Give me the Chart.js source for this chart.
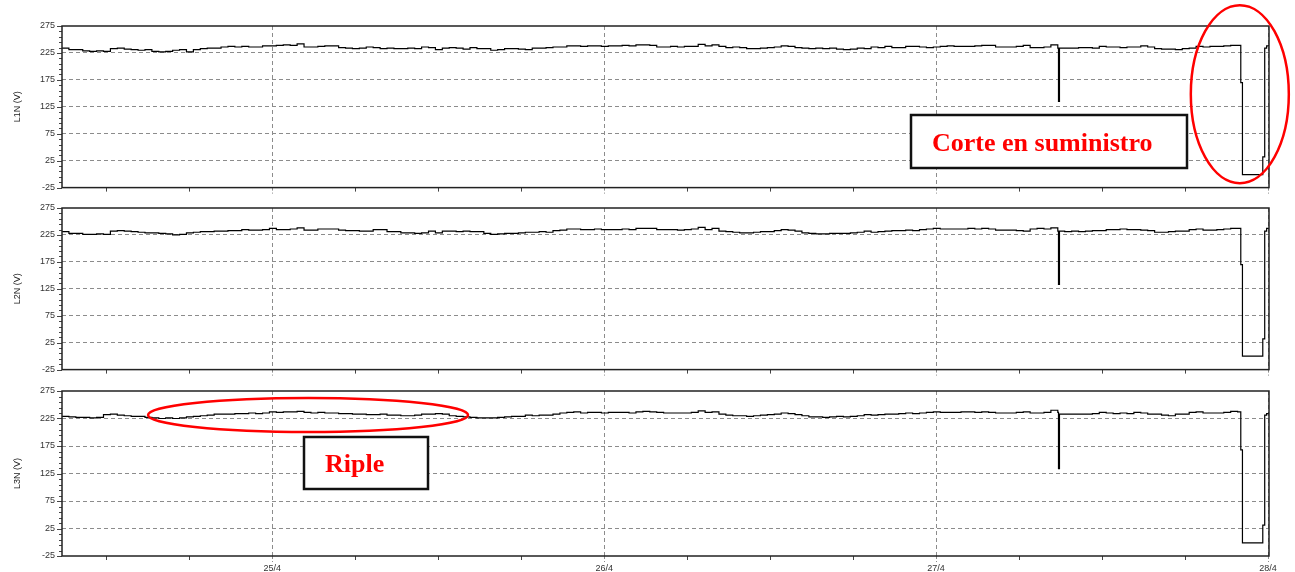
<!DOCTYPE html>
<html>
<head>
<meta charset="utf-8">
<script src="https://cdn.jsdelivr.net/npm/chart.js@4/dist/chart.umd.min.js"></script>
<style>
  html, body { margin: 0; padding: 0; background: #fff; width: 1295px; height: 572px; overflow: hidden; }
  canvas { position: absolute; left: 0; }
</style>
</head>
<body>
<canvas id="p1" width="1295" height="200" style="top:0"></canvas>
<canvas id="p2" width="1295" height="200" style="top:182px"></canvas>
<canvas id="p3" width="1295" height="207" style="top:365px"></canvas>
<script>
// Phase-to-neutral voltage log, one sample every half hour.
// Time axis is in hours counted from 24/4 00:00.
const startHour = 8.8;
const sampleStep = 0.5;
const endHour = 96.07;

const l1n = [
  234, 231, 231, 229, 228, 229, 228, 233, 234, 232,
  231, 230, 231, 228, 227, 228, 230, 231, 227, 231,
  233, 234, 234, 236, 237, 236, 237, 236, 236, 238,
  238, 239, 240, 239, 242, 236, 236, 237, 238, 238,
  235, 234, 233, 234, 236, 235, 233, 234, 233, 233,
  234, 233, 236, 235, 231, 234, 235, 234, 232, 235,
  233, 233, 230, 231, 233, 233, 232, 231, 234, 234,
  235, 236, 236, 238, 238, 237, 238, 238, 237, 238,
  238, 239, 238, 240, 240, 239, 236, 236, 237, 236,
  237, 237, 241, 238, 240, 237, 235, 236, 235, 233,
  233, 234, 235, 236, 238, 237, 235, 234, 233, 234,
  233, 234, 232, 231, 232, 234, 233, 236, 235, 237,
  235, 235, 237, 237, 236, 235, 236, 237, 238, 237,
  237, 237, 238, 239, 239, 236, 236, 236, 237, 239,
  235, 235, 236, 240, 234, 234, 234, 235, 235, 234,
  237, 236, 236, 235, 236, 236, 238, 236, 233, 232,
  232, 231, 233, 234, 237, 236, 237, 237, 238, 239,
  239
];

const l2n = [
  231, 228, 228, 226, 226, 227, 226, 232, 233, 232,
  231, 230, 229, 229, 228, 227, 225, 226, 229, 230,
  231, 231, 232, 232, 233, 233, 235, 234, 234, 235,
  237, 235, 235, 236, 238, 234, 234, 236, 236, 236,
  234, 233, 233, 232, 232, 235, 235, 231, 231, 229,
  229, 228, 229, 232, 229, 232, 232, 231, 232, 231,
  231, 228, 226, 227, 228, 228, 229, 230, 230, 231,
  230, 233, 234, 236, 236, 235, 235, 236, 235, 235,
  235, 236, 235, 237, 237, 237, 235, 235, 235, 234,
  235, 236, 239, 235, 237, 232, 231, 230, 229, 229,
  230, 231, 231, 233, 235, 234, 232, 229, 228, 227,
  227, 228, 228, 228, 229, 230, 232, 230, 231, 232,
  233, 233, 234, 233, 235, 236, 237, 236, 236, 236,
  236, 237, 236, 237, 236, 234, 234, 234, 233, 232,
  236, 237, 236, 238, 232, 231, 232, 231, 232, 233,
  233, 235, 235, 236, 235, 235, 234, 233, 230, 230,
  231, 232, 232, 235, 236, 234, 234, 235, 236, 237,
  237
];

const l3n = [
  229, 228, 227, 227, 226, 227, 232, 233, 231, 230,
  229, 229, 227, 226, 225, 226, 225, 226, 228, 229,
  230, 231, 233, 233, 233, 234, 234, 235, 234, 235,
  237, 236, 237, 237, 238, 236, 235, 236, 235, 235,
  234, 234, 233, 233, 232, 232, 233, 231, 231, 230,
  230, 231, 233, 233, 234, 233, 230, 229, 228, 227,
  226, 226, 226, 227, 228, 229, 229, 231, 230, 231,
  231, 233, 235, 236, 237, 235, 236, 236, 235, 236,
  236, 236, 235, 237, 238, 237, 236, 235, 235, 235,
  235, 236, 239, 236, 237, 233, 231, 230, 230, 229,
  230, 231, 232, 233, 235, 234, 232, 230, 228, 228,
  227, 228, 229, 228, 229, 230, 232, 231, 232, 233,
  233, 234, 235, 234, 235, 236, 237, 236, 236, 236,
  237, 237, 236, 237, 236, 235, 235, 235, 236, 237,
  235, 235, 236, 240, 236, 233, 233, 233, 233, 234,
  236, 235, 234, 235, 234, 236, 235, 233, 233, 231,
  230, 233, 233, 236, 237, 235, 235, 235, 236, 238,
  237
];

// Short events logged between regular samples: the sag on 27/4 and the supply cut before 28/4.
const eventHours = [80.85, 80.92, 94.03, 94.15, 95.62, 95.76, 95.9, 96.05];
const l1nEvents  = [135, 234, 170, -1, 32, 234, 238, 240];
const l2nEvents  = [133, 232, 170, 0, 32, 232, 237, 238];
const l3nEvents  = [134, 233, 168, -1, 31, 231, 234, 236];

const dayTicks  = [24, 48, 72, 96];
const dayLabels = ['25/4', '26/4', '27/4', '28/4'];
const voltTicks = [-25, 25, 75, 125, 175, 225, 275];

const labelFont = { family: '"Liberation Sans", Arial, sans-serif', size: 9 };
const gridGray = '#8c8c8c';

function buildSeries(values, events) {
  const pts = values.map((v, i) => ({ x: startHour + i * sampleStep, y: v }));
  eventHours.forEach((h, j) => pts.push({ x: h, y: events[j] }));
  pts.sort((a, b) => a.x - b.x);
  return pts;
}

// Plot frame plus the small minor tick marks (6 h on time, 10 V on voltage).
const frame = {
  id: 'frame',
  afterDraw(chart) {
    const { ctx, chartArea: a, scales: { x, y } } = chart;
    ctx.save();
    ctx.lineWidth = 1;
    for (let h = 12; h <= 96; h += 6) {
      const px = Math.round(x.getPixelForValue(h)) + 0.5;
      const major = h % 24 === 0;
      ctx.strokeStyle = major ? gridGray : '#444';
      ctx.setLineDash(major ? [3, 2] : []);
      ctx.beginPath();
      ctx.moveTo(px, a.bottom);
      ctx.lineTo(px, a.bottom + (major ? 6 : 4));
      ctx.stroke();
    }
    ctx.setLineDash([]);
    ctx.strokeStyle = '#444';
    ctx.beginPath();
    for (let v = -25; v <= 275; v += 10) {
      const py = Math.round(y.getPixelForValue(v)) + 0.5;
      const len = (v + 25) % 50 === 0 ? 5 : 3;
      ctx.moveTo(a.left - len, py);
      ctx.lineTo(a.left, py);
    }
    ctx.stroke();
    ctx.strokeStyle = '#222';
    ctx.lineWidth = 1.5;
    ctx.strokeRect(a.left, a.top, a.right - a.left, a.bottom - a.top);
    ctx.restore();
  }
};

// Red rings and boxed notes placed on the plot.
const callouts = {
  id: 'callouts',
  afterDraw(chart, args, opts) {
    const { ctx, scales: { x, y } } = chart;
    ctx.save();
    (opts.boxes || []).forEach(b => {
      const cx = x.getPixelForValue(b.x), cy = y.getPixelForValue(b.y);
      const l = Math.round(cx - b.w / 2), t = Math.round(cy - b.h / 2);
      ctx.fillStyle = '#fff';
      ctx.fillRect(l, t, b.w, b.h);
      ctx.strokeStyle = '#111';
      ctx.lineWidth = 2.5;
      ctx.strokeRect(l, t, b.w, b.h);
      ctx.fillStyle = '#ff0000';
      ctx.font = 'bold 26px "Liberation Serif", "Times New Roman", serif';
      ctx.textAlign = 'left';
      ctx.textBaseline = 'alphabetic';
      ctx.fillText(b.text, l + 21, cy + 9.5);
    });
    (opts.rings || []).forEach(r => {
      const cx = x.getPixelForValue(r.x), cy = y.getPixelForValue(r.y);
      ctx.strokeStyle = '#ff0000';
      ctx.lineWidth = 2.5;
      ctx.beginPath();
      ctx.ellipse(cx, cy, r.rx, r.ry, 0, 0, Math.PI * 2);
      ctx.stroke();
    });
    ctx.restore();
  }
};

function makePanel(id, title, values, events, axisHeight, showDays, notes) {
  return new Chart(document.getElementById(id), {
    type: 'line',
    data: {
      datasets: [{
        data: buildSeries(values, events),
        borderColor: '#000',
        borderWidth: 1.2,
        pointRadius: 0,
        stepped: true,
        fill: false
      }]
    },
    options: {
      responsive: false,
      animation: false,
      events: [],
      layout: { padding: { top: 26, right: 26, left: 0, bottom: 0 } },
      plugins: {
        legend: { display: false },
        tooltip: { enabled: false },
        callouts: notes
      },
      scales: {
        x: {
          type: 'linear',
          min: startHour,
          max: endHour,
          afterBuildTicks: s => { s.ticks = dayTicks.map(v => ({ value: v })); },
          afterFit: s => { s.height = axisHeight; },
          grid: { color: gridGray, lineWidth: 1, drawTicks: false },
          border: { display: false, dash: [4, 3] },
          ticks: {
            display: showDays,
            padding: 7,
            maxRotation: 0,
            autoSkip: false,
            color: '#333',
            font: labelFont,
            callback: (v, i) => dayLabels[i]
          }
        },
        y: {
          min: -25,
          max: 275,
          afterBuildTicks: s => { s.ticks = voltTicks.map(v => ({ value: v })); },
          afterFit: s => { s.width = 62; },
          grid: {
            color: c => (c.tick && (c.tick.value === -25 || c.tick.value === 275)) ? 'rgba(0,0,0,0)' : gridGray,
            lineWidth: 1,
            drawTicks: false
          },
          border: { display: false, dash: [4, 3] },
          ticks: { padding: 7, color: '#333', font: labelFont, callback: v => String(v) },
          title: { display: true, text: title, color: '#222', font: labelFont, padding: { top: 12, bottom: 0 } }
        }
      }
    },
    plugins: [frame, callouts]
  });
}

makePanel('p1', 'L1N (V)', l1n, l1nEvents, 8, false, {
  boxes: [{ x: 80.16, y: 60.8, w: 276, h: 53, text: 'Corte en suministro' }],
  rings: [{ x: 93.96, y: 148.5, rx: 49, ry: 89 }]
});
makePanel('p2', 'L2N (V)', l2n, l2nEvents, 8, false, { boxes: [], rings: [] });
makePanel('p3', 'L3N (V)', l3n, l3nEvents, 16, true, {
  boxes: [{ x: 30.78, y: 144.1, w: 124, h: 52, text: 'Riple' }],
  rings: [{ x: 26.59, y: 231.4, rx: 160, ry: 17 }]
});
</script>
</body>
</html>
